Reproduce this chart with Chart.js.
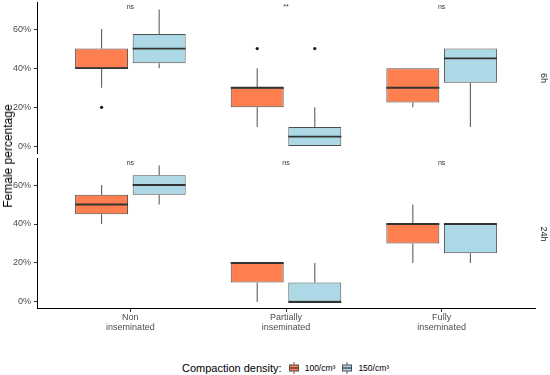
<!DOCTYPE html>
<html>
<head>
<meta charset="utf-8">
<script src="https://cdn.jsdelivr.net/npm/chart.js@4.4.0/dist/chart.umd.min.js"></script>
<style>
  body { margin: 0; background: #fff; font-family: 'Liberation Sans', Arial, sans-serif; }
  #wrap { position: relative; width: 550px; height: 375px; overflow: hidden; }
  #top, #bottom { position: absolute; left: 0; }
  #top { top: 0; }
  #bottom { top: 156px; }
  .ytitle { position: absolute; left: 8px; top: 156px; transform: translate(-50%, -50%) rotate(-90deg); font-size: 12px; white-space: nowrap; color: #000; }
  .strip { position: absolute; left: 544px; transform: translate(-50%, -50%) rotate(90deg); font-size: 9px; color: #1a1a1a; white-space: nowrap; }
  #legend { position: absolute; top: 368px; left: 182px; transform: translateY(-50%); display: flex; align-items: center; white-space: nowrap; }
  #legend .title { font-size: 11px; margin-right: 7px; }
  #legend .lab { font-size: 8.5px; margin: 0 7px 0 6px; }
</style>
</head>
<body>
<div id="wrap">
  <canvas id="top" width="550" height="156"></canvas>
  <canvas id="bottom" width="550" height="184"></canvas>
  <div class="ytitle">Female percentage</div>
  <div class="strip" style="top:78px">6h</div>
  <div class="strip" style="top:234px">24h</div>
  <div id="legend"><span class="title">Compaction density:</span></div>
</div>
<script>
const groups = [['Non', 'inseminated'], ['Partially', 'inseminated'], ['Fully', 'inseminated']];
const densities = ['100/cm³', '150/cm³'];
const colors = ['#FF7F50', '#ADD8E6'];
const yTicks = [0, 20, 40, 60];

// [lower whisker, Q1, median, Q3, upper whisker] per group
const box100_6h  = [[30, 40, 40, 50, 60], [10, 20, 30, 30, 40], [20, 22.5, 30, 40, 40]];
const box150_6h  = [[40, 42.5, 50, 57.5, 70], [0, 0, 5, 10, 20], [10, 32.5, 45, 50, 50]];
const box100_24h = [[40, 45, 50, 55, 60], [0, 10, 20, 20, 20], [20, 30, 40, 40, 50]];
const box150_24h = [[50, 55, 60, 65, 70], [0, 0, 0, 10, 20], [20, 25, 40, 40, 40]];
const out100_6h  = [[20], [50], []];
const out150_6h  = [[], [50], []];
const out100_24h = [[], [], []];
const out150_24h = [[], [], []];
const sig_6h  = ['ns', '**', 'ns'];
const sig_24h = ['ns', 'ns', 'ns'];

const FONT = "'Liberation Sans', Arial, sans-serif";

// whiskers, medians, outliers and significance marks on top of the floating bars
const boxExtras = {
  id: 'boxExtras',
  afterDatasetsDraw(chart, args, opts) {
    const { ctx, scales: { x, y } } = chart;
    ctx.save();
    opts.boxes.forEach((boxes, d) => {
      chart.getDatasetMeta(d).data.forEach((bar, i) => {
        const [lo, q1, med, q3, hi] = boxes[i];
        const half = bar.width / 2;
        ctx.strokeStyle = '#5f5f5f';
        ctx.lineWidth = 1.1;
        ctx.beginPath();
        if (hi > q3) { ctx.moveTo(bar.x, y.getPixelForValue(q3)); ctx.lineTo(bar.x, y.getPixelForValue(hi)); }
        if (lo < q1) { ctx.moveTo(bar.x, y.getPixelForValue(q1)); ctx.lineTo(bar.x, y.getPixelForValue(lo)); }
        ctx.stroke();
        const ym = y.getPixelForValue(med);
        ctx.strokeStyle = '#333';
        ctx.lineWidth = 1.8;
        ctx.beginPath();
        ctx.moveTo(bar.x - half, ym);
        ctx.lineTo(bar.x + half, ym);
        ctx.stroke();
        ctx.fillStyle = '#1a1a1a';
        opts.outliers[d][i].forEach(v => {
          ctx.beginPath();
          ctx.arc(bar.x, y.getPixelForValue(v), 1.6, 0, Math.PI * 2);
          ctx.fill();
        });
      });
    });
    ctx.fillStyle = '#333';
    ctx.font = '7px ' + FONT;
    ctx.textAlign = 'center';
    ctx.textBaseline = 'middle';
    opts.sig.forEach((s, i) => ctx.fillText(s, x.getPixelForValue(i + 1), y.getPixelForValue(71.3)));
    ctx.restore();
  }
};

// keep the chart area exactly where the padding puts it
const noPad = s => { s.paddingTop = 0; s.paddingBottom = 0; s.paddingLeft = 0; s.paddingRight = 0; };

function makeChart(id, b100, b150, o100, o150, sig, showX) {
  const ds = (boxes, k) => ({
    label: densities[k],
    data: boxes.map((b, i) => ({ x: i + 1, y: [b[1], b[3]] })),
    backgroundColor: colors[k],
    borderColor: '#4d4d4d',
    borderWidth: 1,
    borderSkipped: false,
    categoryPercentage: 0.74,
    barPercentage: 0.92
  });
  const tickFont = { size: 9, family: FONT, lineHeight: 1.1 };
  return new Chart(document.getElementById(id), {
    type: 'bar',
    data: { datasets: [ds(b100, 0), ds(b150, 1)] },
    options: {
      responsive: false,
      animation: false,
      devicePixelRatio: 1,
      layout: { padding: showX ? { top: 2.7, right: 15, bottom: 0, left: 0 } : { top: 2.6, right: 15, bottom: 2.7, left: 0 } },
      plugins: {
        legend: { display: false },
        tooltip: { enabled: false },
        boxExtras: { boxes: [b100, b150], outliers: [o100, o150], sig }
      },
      scales: {
        x: {
          type: 'linear', min: 0.4, max: 3.6, display: showX, offset: false,
          afterBuildTicks: s => { s.ticks = [1, 2, 3].map(v => ({ value: v })); },
          afterFit: s => { s.height = showX ? 31.2 : 0; noPad(s); },
          ticks: { callback: v => groups[v - 1], color: '#4d4d4d', font: tickFont, padding: 1, maxRotation: 0, autoSkip: false },
          grid: { display: true, drawOnChartArea: false, offset: false, tickLength: 3, color: '#333' },
          border: { display: true, color: '#000', width: 1 }
        },
        y: {
          min: -3.5, max: 73.5,
          afterBuildTicks: s => { s.ticks = yTicks.map(v => ({ value: v })); },
          afterFit: s => { s.width = 37; noPad(s); },
          ticks: { callback: v => v + '%', color: '#4d4d4d', font: tickFont, padding: 3 },
          grid: { display: true, drawOnChartArea: false, tickLength: 3, color: '#333' },
          border: { display: true, color: '#000', width: 1 }
        }
      }
    },
    plugins: [boxExtras]
  });
}

makeChart('top', box100_6h, box150_6h, out100_6h, out150_6h, sig_6h, false);
makeChart('bottom', box100_24h, box150_24h, out100_24h, out150_24h, sig_24h, true);

// legend keys
const legend = document.getElementById('legend');
densities.forEach((name, k) => {
  const key = document.createElementNS('http://www.w3.org/2000/svg', 'svg');
  key.setAttribute('width', '10');
  key.setAttribute('height', '12');
  key.innerHTML = '<line x1="5" y1="0" x2="5" y2="12" stroke="#5f5f5f" stroke-width="1"/>' +
    '<rect x="0.5" y="3" width="9" height="6" fill="' + colors[k] + '" stroke="#4d4d4d" stroke-width="1"/>' +
    '<line x1="0.5" y1="6" x2="9.5" y2="6" stroke="#333" stroke-width="1.2"/>';
  legend.appendChild(key);
  const lab = document.createElement('span');
  lab.className = 'lab';
  lab.textContent = name;
  legend.appendChild(lab);
});
</script>
</body>
</html>
